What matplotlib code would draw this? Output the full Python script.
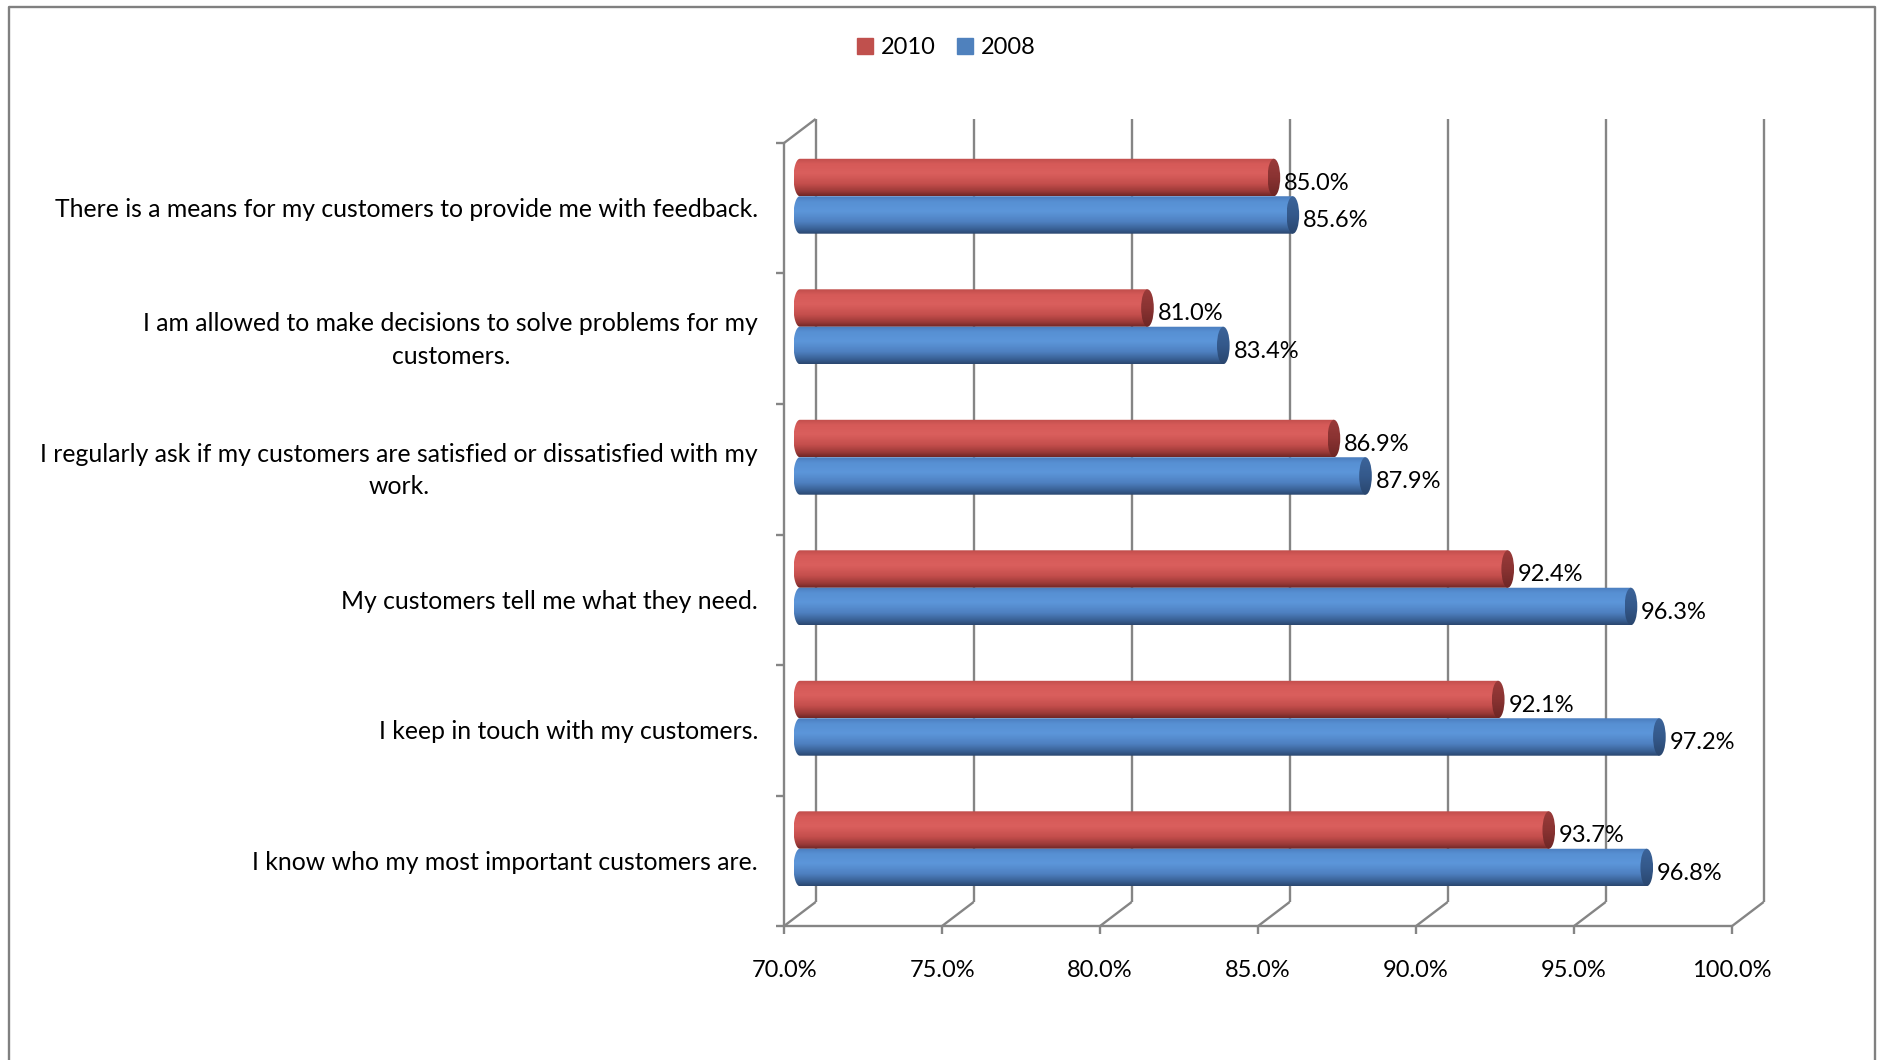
import numpy as np
import matplotlib.pyplot as plt
from matplotlib.path import Path
from matplotlib.patches import Ellipse, Patch
from matplotlib.colors import LinearSegmentedColormap
from matplotlib.lines import Line2D

plt.rcParams['font.family'] = ['Lato', 'DejaVu Sans']

#---------------------------------------------------------- data (top to bottom)
statements = [
    "There is a means for my customers to provide me with feedback.",
    "I am allowed to make decisions to solve problems for my\ncustomers.",
    "I regularly ask if my customers are satisfied or dissatisfied with my\nwork.",
    "My customers tell me what they need.",
    "I keep in touch with my customers.",
    "I know who my most important customers are.",
]
pct_2010 = [85.0, 81.0, 86.9, 92.4, 92.1, 93.7]
pct_2008 = [85.6, 83.4, 87.9, 96.3, 97.2, 96.8]
x_ticks = [70, 75, 80, 85, 90, 95, 100]
years = ["2010", "2008"]

#---------------------------------------------------------- look
red_key, blue_key = "#C0504D", "#4F81BD"
red_grad = ["#C04E4C", "#D65A58", "#DA5F5D", "#C44E4C", "#9A3937", "#6E2625"]
blue_grad = ["#4B7DBE", "#5790D3", "#5C96DA", "#4E80C0", "#385F93", "#2A466E"]
red_cap = ["#9A3B3A", "#8A3332", "#6E2625"]
blue_cap = ["#3C649A", "#34598B", "#2A466E"]
grad_stops = [0.0, 0.15, 0.4, 0.68, 0.88, 1.0]
grid_c = "#858585"
fs = 17          # values, ticks, legend
fs_cat = 17.8    # category labels
lw = 1.7

# oblique depth of the back wall (data units) and bar sizes
dep_x, dep_y = 1.0, 0.184
mid_x, mid_y = dep_x / 2, dep_y / 2
bar_h = 0.287
cap_w = 0.40
x0_val = x_ticks[0]

fig = plt.figure(figsize=(18.78, 10.60), dpi=100)
ax = fig.add_axes([0.4175, 0.1264, 0.5048, 0.7387])
ax.set_xlim(70, 100)
ax.set_ylim(-0.5, 5.5)
ax.axis("off")

ypos = np.arange(len(statements))[::-1]
ybot, ytop = -0.5, 5.5

#---------------------------------------------------------- 3-D frame
def seg(xs, ys, z=1):
    ax.plot(xs, ys, color=grid_c, lw=lw, clip_on=False, zorder=z,
            solid_capstyle="butt")

for v in x_ticks:
    seg([v + dep_x] * 2, [ybot + dep_y, ytop + dep_y])      # back wall gridline
    seg([v, v + dep_x], [ybot, ybot + dep_y])               # floor edge
    seg([v, v], [ybot, ybot - 0.061])                       # tick
seg([70, 100], [ybot, ybot])
seg([70, 70], [ybot, ytop])
seg([70, 70 + dep_x], [ytop, ytop + dep_y])
for b in np.arange(ybot, ytop + 0.01, 1.0):
    seg([70 - 0.27, 70], [b, b])

#---------------------------------------------------------- cylinders
def gradient(colors, stops=None, n=200):
    if stops is None:
        stops = np.linspace(0, 1, len(colors))
    cmap = LinearSegmentedColormap.from_list("g", list(zip(stops, colors)))
    return cmap(np.linspace(0, 1, n))[:, None, :]

def cylinder(v, yc, body, cap):
    y0, y1 = yc - bar_h / 2, yc + bar_h / 2
    xs = x0_val + mid_x
    xe = v + mid_x
    t = np.linspace(np.pi / 2, 3 * np.pi / 2, 40)
    verts = [(xe, y1)] + list(zip(xs + cap_w / 2 * np.cos(t),
                                  yc + bar_h / 2 * np.sin(t))) + [(xe, y0), (xe, y1)]
    im = ax.imshow(gradient(body, grad_stops), extent=(xs - cap_w / 2, xe, y0, y1),
                   aspect="auto", interpolation="bicubic", zorder=3)
    im.set_clip_path(Path(verts), ax.transData)
    ell = Ellipse((xe, yc), cap_w, bar_h, facecolor="none", edgecolor="none",
                  transform=ax.transData)
    ax.add_patch(ell)
    im2 = ax.imshow(gradient(cap), extent=(xe - cap_w / 2, xe + cap_w / 2, y0, y1),
                    aspect="auto", interpolation="bicubic", zorder=4)
    im2.set_clip_path(ell)

for yc, a, b in zip(ypos, pct_2010, pct_2008):
    yr = yc + mid_y + bar_h / 2
    yb = yc + mid_y - bar_h / 2
    cylinder(a, yr, red_grad, red_cap)
    cylinder(b, yb, blue_grad, blue_cap)
    ax.text(a + mid_x + 0.32, yr - 0.045, f"{a:.1f}%", ha="left", va="center",
            fontsize=fs, zorder=5)
    ax.text(b + mid_x + 0.32, yb - 0.045, f"{b:.1f}%", ha="left", va="center",
            fontsize=fs, zorder=5)

ax.set_xlim(70, 100)
ax.set_ylim(-0.5, 5.5)

#---------------------------------------------------------- labels
for yc, s in zip(ypos, statements):
    ax.text(-0.0274, yc - 0.01, s, transform=ax.get_yaxis_transform(), ha="right",
            va="center", multialignment="center", linespacing=1.5, fontsize=fs_cat)
for v in x_ticks:
    ax.text(v, -0.057, f"{v:.1f}%", transform=ax.get_xaxis_transform(),
            ha="center", va="center", fontsize=fs)

fig.legend(handles=[Patch(color=red_key), Patch(color=blue_key)], labels=years,
           loc="center", bbox_to_anchor=(0.504, 0.955), ncol=2, frameon=False,
           fontsize=fs, handlelength=0.65, handleheight=0.65,
           handletextpad=0.35, columnspacing=0.9)

# outer chart border (no bottom edge)
fig.add_artist(Line2D([9 / 1878, 9 / 1878, 1875 / 1878, 1875 / 1878],
                      [0, 1 - 7 / 1060, 1 - 7 / 1060, 0],
                      transform=fig.transFigure, color="#808080", lw=1.7))

fig.savefig("out.png", dpi=100)
